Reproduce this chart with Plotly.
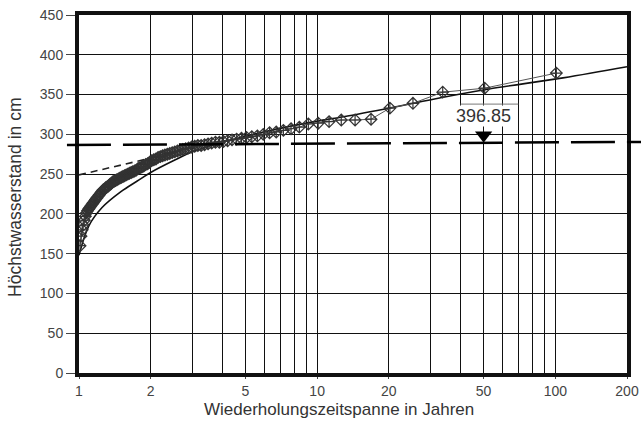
import math
import plotly.graph_objects as go

# Return periods (years) of the ranked annual maxima (plotting positions as read)
return_period = [101.0, 50.5, 33.667, 25.25, 20.2, 16.833, 14.429, 12.625, 11.222, 10.1,
                 9.182, 8.417, 7.769, 7.214, 6.733, 6.3125, 5.941, 5.611, 5.316, 5.05,
                 4.810, 4.591, 4.391, 4.208, 4.04, 3.885, 3.741, 3.607, 3.483, 3.367,
                 3.258, 3.156, 3.061, 2.971, 2.886, 2.806, 2.730, 2.658, 2.590, 2.525,
                 2.463, 2.405, 2.349, 2.295, 2.244, 2.196, 2.149, 2.104, 2.061, 2.02,
                 1.980, 1.942, 1.906, 1.870, 1.836, 1.804, 1.772, 1.741, 1.712, 1.683,
                 1.656, 1.629, 1.603, 1.578, 1.554, 1.530, 1.507, 1.485, 1.464, 1.443,
                 1.423, 1.403, 1.384, 1.365, 1.347, 1.329, 1.312, 1.295, 1.278, 1.2625,
                 1.247, 1.232, 1.217, 1.202, 1.188, 1.174, 1.161, 1.148, 1.135, 1.122,
                 1.110, 1.098, 1.086, 1.074, 1.063, 1.052, 1.041, 1.031, 1.020, 1.010]

# Highest water levels (cm)
water_level = [377, 358, 353, 339, 333, 319, 318, 318, 316, 314,
               313, 309, 307, 305, 303, 302, 300, 298, 297, 296,
               295, 294, 293, 292, 291, 290, 290, 289, 288, 287,
               286, 286, 285, 284, 283, 282, 281, 280, 279, 278,
               277, 276, 275, 274, 273, 272, 271, 269, 268, 267,
               265, 263, 262, 260, 259, 258, 257, 255, 254, 253,
               252, 251, 250, 249, 248, 247, 246, 245, 244, 243,
               242, 241, 240, 238, 237, 235, 234, 233, 231, 230,
               228, 226, 224, 222, 220, 218, 216, 214, 212, 210,
               208, 206, 204, 201, 197, 192, 186, 180, 172, 160]

# Fitted distribution curve
fit_T = [1.0, 1.1, 1.25, 1.5, 1.75, 2.0, 2.5, 3.0, 4.0, 5.77,
         9.36, 12.9, 20.9, 33, 52.6, 107.7, 200]
fit_level = [148, 185, 208, 228, 241, 252, 267, 278, 290, 302,
             315, 322, 334, 346, 357, 371, 385]

# Short dashed line in the low range
dash_T = [1.0, 2.2]
dash_level = [249, 273]

# Design water level (long dashed line) and marked value
design_level_left = 286.5
design_level_right = 290.5
marker_T = 50
marker_level = 299
label_text = "396.85"
label_level = 323
bracket_T = [40, 70]
bracket_level = 338

x_tickvals = [1, 2, 5, 10, 20, 50, 100, 200]
x_minor = [3, 4, 6, 7, 8, 9, 30, 40, 60, 70, 80, 90]
y_tickvals = [0, 50, 100, 150, 200, 250, 300, 350, 400, 450]

FONT = "Liberation Sans, Arial, sans-serif"

fig = go.Figure()

fig.add_trace(go.Scatter(
    x=fit_T, y=fit_level, mode="lines", line_shape="spline",
    line=dict(color="#111", width=1.6), hoverinfo="skip"))

fig.add_trace(go.Scatter(
    x=dash_T, y=dash_level, mode="lines",
    line=dict(color="#222", width=1.6, dash="7px,5px"), hoverinfo="skip"))

fig.add_trace(go.Scatter(
    x=return_period, y=water_level, mode="lines+markers",
    line=dict(color="#555", width=1),
    marker=dict(symbol="diamond-cross-open", size=9, color="#333",
                line=dict(width=1.2, color="#333"))))

fig.add_trace(go.Scatter(
    x=[marker_T], y=[marker_level], mode="markers",
    marker=dict(symbol="triangle-down", size=15, color="black"),
    cliponaxis=False))

fig.add_shape(type="line", xref="paper", yref="y",
              x0=-0.022, x1=1.03, y0=design_level_left, y1=design_level_right,
              line=dict(color="black", width=2.5, dash="44px,12px"))

fig.add_shape(type="line", xref="x", yref="y",
              x0=bracket_T[0], x1=bracket_T[1], y0=bracket_level, y1=bracket_level,
              line=dict(color="#777", width=1))

fig.add_annotation(x=math.log10(marker_T), y=label_level, xref="x", yref="y",
                   text=label_text, showarrow=False,
                   font=dict(family=FONT, size=18, color="#333"),
                   bgcolor="white", borderpad=0)

fig.add_annotation(x=0.475, y=-0.134, xref="paper", yref="paper",
                   text="Wiederholungszeitspanne in Jahren", showarrow=False,
                   xanchor="center", yanchor="bottom",
                   font=dict(family=FONT, size=17, color="#333"))
fig.add_annotation(x=-0.118, y=0.49, xref="paper", yref="paper",
                   text="Höchstwasserstand in cm", showarrow=False, textangle=-90,
                   xanchor="center", yanchor="middle",
                   font=dict(family=FONT, size=17.5, color="#333"))

fig.update_xaxes(
    type="log", range=[0, 2.30103], automargin=False,
    tickvals=x_tickvals, ticktext=[str(v) for v in x_tickvals],
    ticks="outside", ticklen=2, tickcolor="#444", tickwidth=1,
    showgrid=True, gridcolor="#111", gridwidth=1.3,
    minor=dict(tickvals=x_minor, showgrid=True, gridcolor="#111",
               gridwidth=1.3, ticks=""),
    showline=True, linecolor="#111", linewidth=4, mirror=True,
    zeroline=False,
    tickfont=dict(family=FONT, size=14, color="#444"))

fig.update_yaxes(
    range=[0, 450], tickvals=y_tickvals, automargin=False,
    ticks="outside", ticklen=9, tickcolor="#444", tickwidth=1,
    showgrid=True, gridcolor="#111", gridwidth=1.3,
    showline=True, linecolor="#111", linewidth=4, mirror=True,
    zeroline=False,
    tickfont=dict(family=FONT, size=14, color="#444"))

fig.update_layout(
    width=641, height=421,
    margin=dict(l=79, r=14, t=15, b=48),
    paper_bgcolor="white", plot_bgcolor="white",
    showlegend=False)

fig.write_html("out.html")
